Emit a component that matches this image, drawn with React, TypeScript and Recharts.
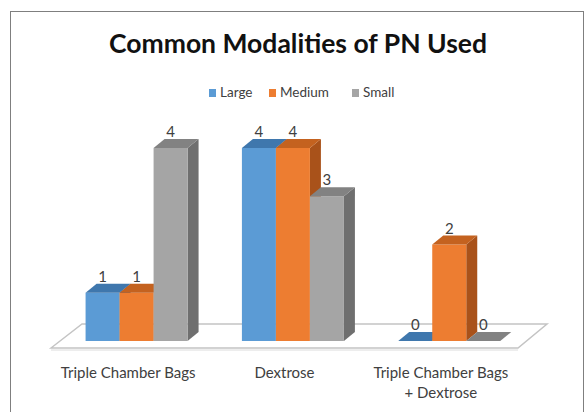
import React from 'react';
import { BarChart, Bar, XAxis, YAxis, LabelList } from 'recharts';

const CATEGORIES = ['Triple Chamber Bags', 'Dextrose', 'Triple Chamber Bags + Dextrose'];
const LARGE = [1, 4, 0];
const MEDIUM = [1, 4, 2];
const SMALL = [4, 3, 0];

const SERIES = [
  { key: 'Large', front: '#5b9bd5', top: '#3f77ad', side: '#36689a' },
  { key: 'Medium', front: '#ed7d31', top: '#c4621f', side: '#a9521a' },
  { key: 'Small', front: '#a5a5a5', top: '#828282', side: '#6f6f6f' },
];

const W = 587;
const H = 412;
const PLOT = { left: 59, right: 528, top: 148, bottom: 341 };
const DEPTH = { dx: 11, dy: -9 };
const FONT = 'Lato, "Open Sans", sans-serif';

const data = CATEGORIES.map((name, i) => ({
  name,
  Large: LARGE[i],
  Medium: MEDIUM[i],
  Small: SMALL[i],
}));

// front face + top + right side, faked 3d column
const Column3D = (colors: any) => (props: any) => {
  const { x, y, width, height } = props;
  if (x == null || y == null) return null;
  const h = Math.max(0, height || 0);
  const { dx, dy } = DEPTH;
  const top = `${x},${y} ${x + width},${y} ${x + width + dx},${y + dy} ${x + dx},${y + dy}`;
  const side = `${x + width},${y} ${x + width + dx},${y + dy} ${x + width + dx},${y + h + dy} ${x + width},${y + h}`;
  return (
    <g>
      <polygon points={side} fill={colors.side} />
      <rect x={x} y={y} width={width} height={h} fill={colors.front} />
      <polygon points={top} fill={colors.top} />
    </g>
  );
};

const CategoryTick = ({ x, y, payload }: any) => {
  const parts = String(payload.value).split(' + ');
  const lines = parts.length > 1 ? [parts[0], '+ ' + parts[1]] : parts;
  const tx = x - 9;
  return (
    <text x={tx} y={y} textAnchor="middle" fill="#404040" fontSize={15} fontFamily={FONT}>
      {lines.map((l, i) => (
        <tspan key={i} x={tx} dy={i === 0 ? 29 : 20}>
          {l}
        </tspan>
      ))}
    </text>
  );
};

function Backdrop() {
  const floorBack = PLOT.bottom - 17;
  const floorFront = PLOT.bottom + 7;
  const floor = [
    [PLOT.left - 8, floorFront],
    [PLOT.left + 23, floorBack],
    [PLOT.right + 19, floorBack],
    [PLOT.right - 10, floorFront],
  ]
    .map((p) => p.join(','))
    .join(' ');

  const legendX = [209, 269, 352];
  return (
    <svg width={W} height={H} style={{ position: 'absolute', left: 0, top: 0 }}>
      <text x={298} y={53} textAnchor="middle" fontSize={26.5} fontWeight={700} fill="#111" fontFamily={FONT}>
        Common Modalities of PN Used
      </text>
      {SERIES.map((s, i) => (
        <g key={s.key}>
          <rect x={legendX[i]} y={89} width={7} height={8} fill={s.front} />
          <text x={legendX[i] + 11} y={97} fontSize={13.5} fill="#404040" fontFamily={FONT}>
            {s.key}
          </text>
        </g>
      ))}
      <polygon points={floor} fill="#fff" stroke="#c4c4c4" strokeWidth={1.5} />
      <line x1={PLOT.left - 8} y1={floorFront + 2} x2={PLOT.right - 10} y2={floorFront + 2} stroke="#dcdcdc" />
    </svg>
  );
}

export default function App() {
  const xAxisHeight = 50;
  return (
    <div
      style={{
        position: 'absolute',
        left: 0,
        top: 0,
        width: W,
        height: H,
        background: '#fff',
        overflow: 'hidden',
        fontFamily: FONT,
      }}
    >
      <div
        style={{
          position: 'absolute',
          left: 10,
          top: 11,
          width: 572,
          height: 430,
          borderLeft: '1px solid #7f7f7f',
          borderTop: '1px solid #7f7f7f',
          borderRight: '1px solid #7f7f7f',
        }}
      />
      <Backdrop />
      <div style={{ position: 'absolute', left: 0, top: 0 }}>
        <BarChart
          width={W}
          height={H}
          data={data}
          barCategoryGap="17%"
          barGap={0}
          margin={{
            top: PLOT.top,
            left: PLOT.left,
            right: W - PLOT.right,
            bottom: H - PLOT.bottom - xAxisHeight,
          }}
        >
          <XAxis
            dataKey="name"
            axisLine={false}
            tickLine={false}
            height={xAxisHeight}
            interval={0}
            tick={<CategoryTick />}
          />
          <YAxis hide domain={[0, 4]} />
          {SERIES.map((s) => (
            <Bar key={s.key} dataKey={s.key} isAnimationActive={false} shape={Column3D(s)}>
              <LabelList
                dataKey={s.key}
                position="top"
                offset={11}
                fill="#404040"
                fontSize={15}
                fontFamily={FONT}
              />
            </Bar>
          ))}
        </BarChart>
      </div>
    </div>
  );
}
